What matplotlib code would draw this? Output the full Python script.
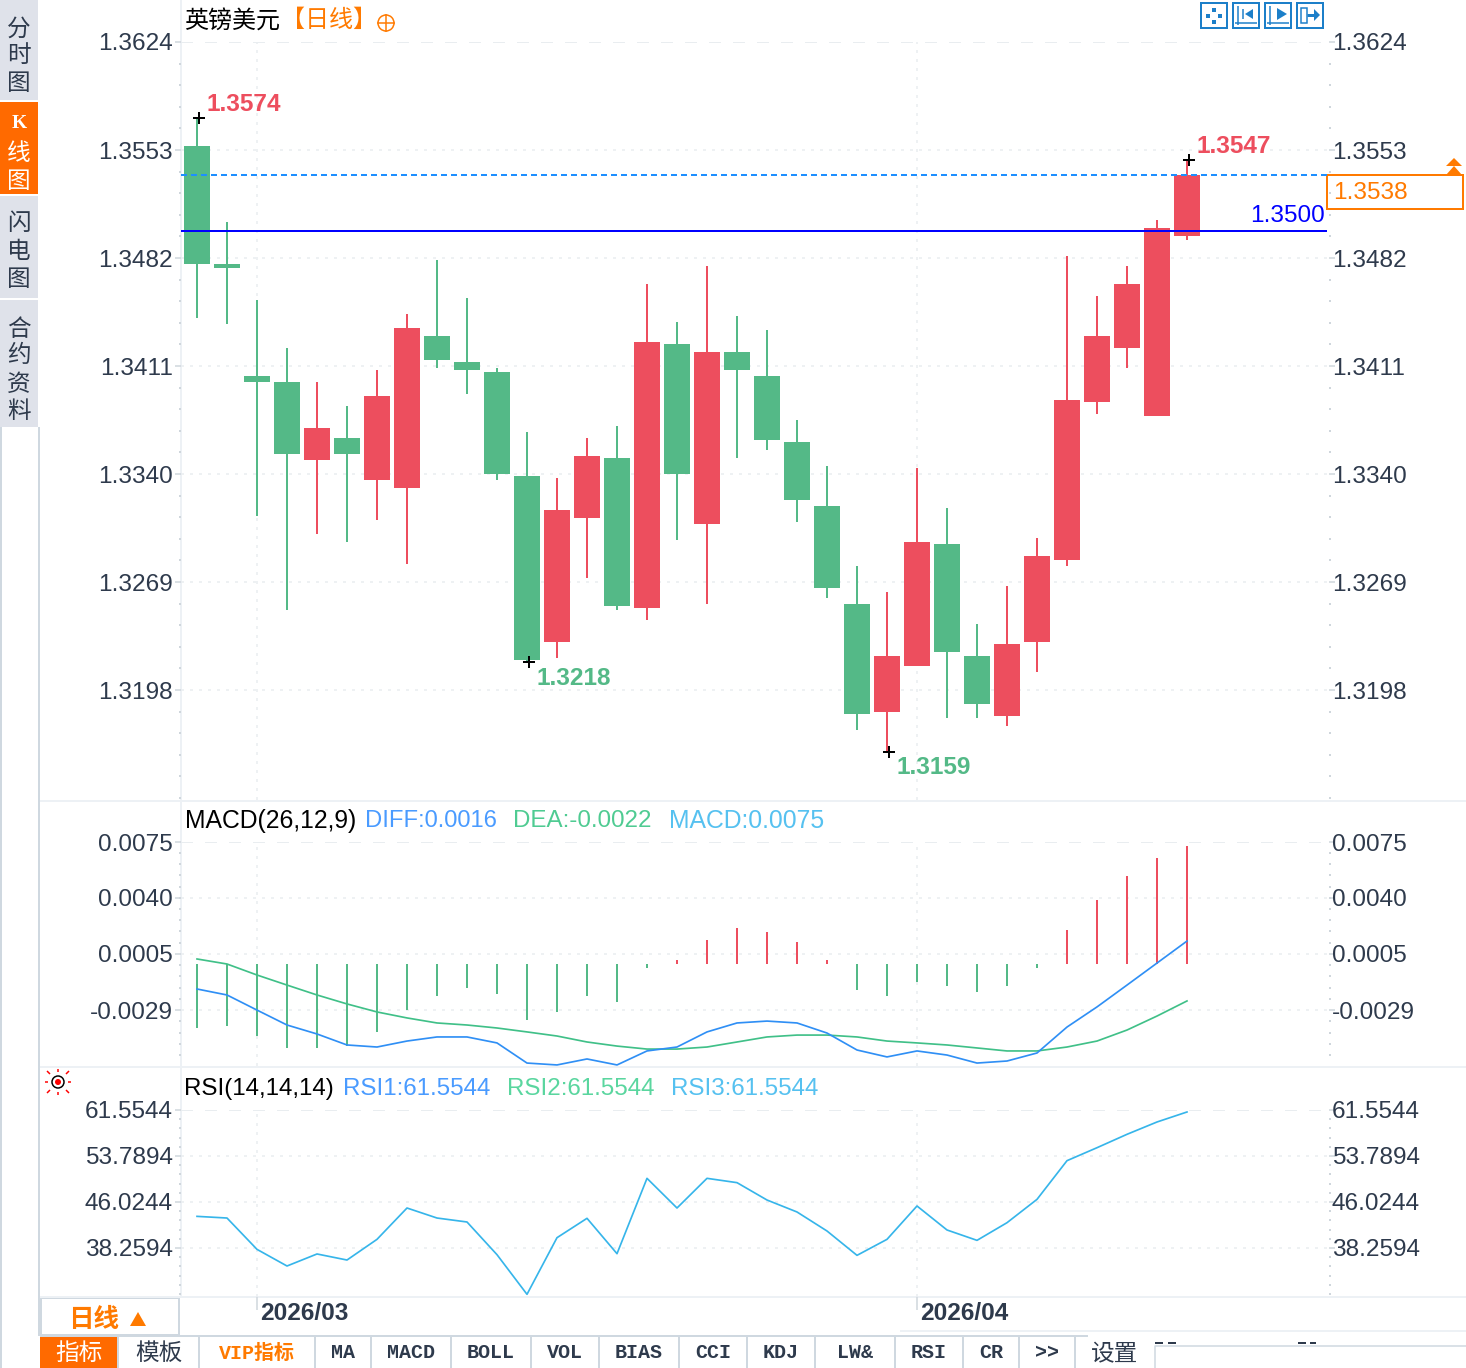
import matplotlib
matplotlib.use('Agg')
import matplotlib.pyplot as plt
from matplotlib.patches import Rectangle, Circle, Polygon
from matplotlib.ticker import AutoMinorLocator

plt.rcParams['font.family'] = ['Liberation Sans', 'Noto Sans CJK SC', 'DejaVu Sans']

W, H = 1466, 1368

# daily candles, price units
opens = [1.35556, 1.34781, 1.34044, 1.34005, 1.33492, 1.33637, 1.33361, 1.33308, 1.34307, 1.34136,
         1.34071, 1.33387, 1.32296, 1.33111, 1.33505, 1.32519, 1.34255, 1.33071, 1.34202, 1.34044,
         1.33610, 1.33190, 1.32545, 1.31835, 1.32138, 1.32940, 1.32204, 1.31809, 1.32296, 1.32835,
         1.33873, 1.34228, 1.33781, 1.34965]
closes = [1.34781, 1.34754, 1.34005, 1.33532, 1.33702, 1.33532, 1.33913, 1.34360, 1.34150, 1.34084,
          1.33400, 1.32177, 1.33163, 1.33518, 1.32532, 1.34268, 1.33400, 1.34202, 1.34084, 1.33624,
          1.33229, 1.32651, 1.31822, 1.32204, 1.32953, 1.32230, 1.31888, 1.32283, 1.32861, 1.33887,
          1.34307, 1.34649, 1.35017, 1.35366]
highs = [1.35740, 1.35057, 1.34544, 1.34228, 1.34005, 1.33847, 1.34084, 1.34452, 1.34807, 1.34557,
         1.34097, 1.33676, 1.33374, 1.33637, 1.33716, 1.34649, 1.34399, 1.34767, 1.34439, 1.34347,
         1.33755, 1.33453, 1.32795, 1.32624, 1.33440, 1.33177, 1.32414, 1.32664, 1.32979, 1.34833,
         1.34570, 1.34767, 1.35070, 1.35464]
lows = [1.34426, 1.34386, 1.33124, 1.32506, 1.33006, 1.32953, 1.33098, 1.32808, 1.34097, 1.33926,
        1.33361, 1.32164, 1.32190, 1.32716, 1.32506, 1.32440, 1.32966, 1.32545, 1.33505, 1.33558,
        1.33085, 1.32585, 1.31717, 1.31573, 1.32138, 1.31796, 1.31796, 1.31743, 1.32098, 1.32795,
        1.33795, 1.34097, 1.33781, 1.34938]

price_ticks = [1.3624, 1.3553, 1.3482, 1.3411, 1.3340, 1.3269, 1.3198]
price_labels = ['1.3624', '1.3553', '1.3482', '1.3411', '1.3340', '1.3269', '1.3198']
last_price = 1.35366
last_label = '1.3538'
level_price = 1.3500
level_label = '1.3500'
extremes = [(0, 1.35740, '1.3574'), (33, 1.35464, '1.3547'), (11, 1.32164, '1.3218'), (23, 1.31573, '1.3159')]

macd_hist = [-0.00407, -0.00394, -0.00458, -0.00534, -0.00534, -0.00522, -0.00432, -0.00293, -0.00204, -0.00153,
             -0.00191, -0.00356, -0.00305, -0.00204, -0.00242, -0.00025, 0.00025, 0.00153, 0.00229, 0.00204,
             0.00140, 0.00025, -0.00165, -0.00204, -0.00114, -0.00140, -0.00178, -0.00140, -0.00025, 0.00216,
             0.00407, 0.00560, 0.00674, 0.00750]
diff = [-0.00159, -0.00197, -0.00293, -0.00388, -0.00445, -0.00515, -0.00528, -0.00490, -0.00464, -0.00464,
        -0.00502, -0.00630, -0.00642, -0.00604, -0.00642, -0.00553, -0.00528, -0.00432, -0.00375, -0.00363,
        -0.00375, -0.00439, -0.00547, -0.00591, -0.00553, -0.00579, -0.00630, -0.00617, -0.00566, -0.00401,
        -0.00273, -0.00134, 0.00006, 0.00146]
dea = [0.00032, 0.00000, -0.00070, -0.00134, -0.00197, -0.00254, -0.00305, -0.00343, -0.00375, -0.00388,
       -0.00407, -0.00432, -0.00458, -0.00496, -0.00522, -0.00541, -0.00541, -0.00528, -0.00496, -0.00464,
       -0.00452, -0.00452, -0.00464, -0.00490, -0.00502, -0.00515, -0.00534, -0.00553, -0.00553, -0.00528,
       -0.00490, -0.00420, -0.00331, -0.00235]
macd_ticks = [0.00776, 0.00420, 0.00064, -0.00293]
macd_labels = ['0.0075', '0.0040', '0.0005', '-0.0029']

rsi = [43.60, 43.32, 38.03, 35.22, 37.25, 36.23, 39.72, 45.01, 43.32, 42.65,
       37.13, 30.44, 40.00, 43.27, 37.30, 50.02, 45.01, 50.02, 49.29, 46.36,
       44.34, 41.13, 37.02, 39.72, 45.35, 41.30, 39.55, 42.53, 46.47, 53.00,
       55.19, 57.45, 59.53, 61.22]
rsi_ticks = [61.5544, 53.7894, 46.0244, 38.2594]
rsi_labels = ['61.5544', '53.7894', '46.0244', '38.2594']

month_pos = [2, 24]
month_labels = ['2026/03', '2026/04']

side_tabs = [(['分', '时', '图'], [27, 54, 82]), (['K', '线', '图'], [124, 152, 180]),
             (['闪', '电', '图'], [222, 250, 277]), (['合', '约', '资', '料'], [327, 354, 382, 409])]
bottom_tabs = ['指标', '模板', 'VIP指标', 'MA', 'MACD', 'BOLL', 'VOL', 'BIAS', 'CCI', 'KDJ', 'LW&', 'RSI', 'CR', '>>']
bottom_edges = [40, 118, 199, 315, 371, 451, 531, 599, 679, 747, 815, 895, 963, 1019, 1075]

GREEN = '#54b987'
RED = '#ed4e5e'
ORANGE = '#ff7a00'
TEXT = '#2e3a4c'
GRID = '#e9edf0'
EDGE = '#cfd8e0'
LIGHT = '#edf1f5'
FS = 17.6
PX = 72 / 100  # points per pixel

fig = plt.figure(figsize=(W / 100, H / 100), dpi=100, facecolor='white')

# page furniture, in pixels
ui = fig.add_axes([0, 0, 1, 1], zorder=0)
ui.set_xlim(0, W)
ui.set_ylim(H, 0)
ui.axis('off')


def box(x0, y0, x1, y1, **kw):
    ui.add_patch(Rectangle((x0, y0), x1 - x0, y1 - y0, **kw))


def seg(xs, ys, color, lw=1.0, **kw):
    ui.plot(xs, ys, color=color, lw=lw * PX, solid_capstyle='butt', **kw)


# left side tabs
box(0, 0, 38, 100, fc='#dfe2ea', ec='none')
box(0, 102, 38, 194, fc='#ff6a00', ec='none')
box(0, 196, 38, 298, fc='#dfe2ea', ec='none')
box(0, 300, 38, 427, fc='#dfe2ea', ec='none')
seg([39, 39], [427, 1336], EDGE, 2)
seg([1, 1], [427, 1368], EDGE, 2)
for chars, ys in side_tabs:
    for ch, y in zip(chars, ys):
        is_k = ch == 'K'
        ui.text(19, y + (0 if is_k else 2), ch, ha='center', va='center', fontsize=14 if is_k else 17,
                color='white' if ys[0] == 124 else TEXT, fontweight='bold' if is_k else 'normal',
                family=['Liberation Serif'] if is_k else ['Noto Sans CJK SC'])

# panel frame lines
seg([181, 181], [0, 1297], LIGHT, 2)
seg([40, W], [801, 801], LIGHT, 2)
seg([40, W], [1067, 1067], LIGHT, 2)
seg([40, W], [1297, 1297], LIGHT, 2)

# titles
ui.text(184, 21, '英镑美元', fontsize=17.3, color='black', va='center')
ui.text(281, 21, '【日线】', fontsize=17.3, color=ORANGE, va='center')
ui.add_patch(Circle((386, 23), 8, fc='none', ec=ORANGE, lw=1.5 * PX))
seg([377, 395], [23, 23], ORANGE, 1.5)
seg([386, 386], [14, 32], ORANGE, 1.5)

ui.text(185, 821, 'MACD(26,12,9)', fontsize=17.8, color='black', va='center')
ui.text(365, 821, 'DIFF:0.0016', fontsize=17.1, color='#4a9bff', va='center')
ui.text(513, 821, 'DEA:-0.0022', fontsize=17.4, color='#4fcb92', va='center')
ui.text(669, 821, 'MACD:0.0075', fontsize=17.8, color='#56c1f0', va='center')
ui.text(184, 1089, 'RSI(14,14,14)', fontsize=17.4, color='black', va='center')
ui.text(343, 1089, 'RSI1:61.5544', fontsize=17.4, color='#4a9bff', va='center')
ui.text(507, 1089, 'RSI2:61.5544', fontsize=17.4, color='#5ad69f', va='center')
ui.text(671, 1089, 'RSI3:61.5544', fontsize=17.4, color='#56c1f0', va='center')

# zoom buttons, top right
for x0 in [1201, 1233, 1265, 1297]:
    box(x0, 3, x0 + 26, 28, fc='none', ec='#1c7fc9', lw=2 * PX)
for dx, dy in [(0, -6), (0, 6), (-6, 0), (6, 0)]:
    box(1214 + dx - 2, 15.5 + dy - 2, 1214 + dx + 2, 15.5 + dy + 2, fc='#1c7fc9', ec='none')
for x0 in [1233, 1265]:
    seg([x0 + 5, x0 + 5], [6, 25], '#1c7fc9', 1.5)
    seg([x0 + 2, x0 + 24], [23, 23], '#1c7fc9', 1.5)
ui.add_patch(Polygon([(1253, 9), (1253, 19), (1245, 14)], fc='#1c7fc9', ec='none'))
seg([1243, 1243], [9, 19], '#1c7fc9', 1.5)
ui.add_patch(Polygon([(1277, 8), (1277, 20), (1287, 14)], fc='#1c7fc9', ec='none'))
box(1301, 8, 1307, 23, fc='none', ec='#1c7fc9', lw=1.5 * PX)
ui.add_patch(Polygon([(1314, 9), (1314, 21), (1320, 15)], fc='#1c7fc9', ec='none'))
seg([1307, 1315], [15, 15], '#1c7fc9', 3)

# last price box and arrow
box(1327, 175, 1463, 209, fc='white', ec=ORANGE, lw=2 * PX)
ui.add_patch(Polygon([(1446, 166), (1462, 166), (1454, 158)], fc=ORANGE, ec='none'))
ui.add_patch(Polygon([(1446, 175), (1462, 175), (1454, 166)], fc=ORANGE, ec='none'))
ui.text(1333, 193, last_label, fontsize=FS, color=ORANGE, va='center')

# alert lamp
ui.add_patch(Circle((58, 1082), 6, fc='white', ec='black', lw=1.5 * PX))
ui.add_patch(Circle((58, 1082), 3, fc='#ff0000', ec='none'))
for x0, y0, x1, y1 in [(58, 1069, 58, 1072), (58, 1092, 58, 1095), (45, 1082, 48, 1082), (68, 1082, 71, 1082),
                       (47, 1071, 50, 1074), (66, 1090, 69, 1093), (47, 1093, 50, 1090), (66, 1074, 69, 1071)]:
    seg([x0, x1], [y0, y1], '#ff0000', 1.5)

# bottom bar
box(41, 1298, 179, 1335, fc='white', ec=EDGE, lw=2 * PX)
ui.text(68, 1320, '日线', fontsize=18.4, color=ORANGE, va='center', fontweight='bold')
ui.add_patch(Polygon([(130, 1326), (146, 1326), (138, 1312)], fc=ORANGE, ec='none'))
seg([40, 1088], [1336, 1336], EDGE, 2)
seg([900, W], [1331, 1331], LIGHT, 2)
box(40, 1337, 118, 1368, fc='#ff6a00', ec='none')
for x in bottom_edges[1:]:
    seg([x, x], [1337, 1368], EDGE, 2)
for name, x0, x1 in zip(bottom_tabs, bottom_edges[:-1], bottom_edges[1:]):
    col = 'white' if name == '指标' else (ORANGE if name == 'VIP指标' else TEXT)
    is_cjk = name in ('指标', '模板')
    ui.text((x0 + x1) / 2, 1353, name, ha='center', va='center', color=col,
            fontsize=17 if is_cjk else 14.4, fontweight='normal' if is_cjk else 'bold',
            family=['Liberation Mono', 'Noto Sans CJK SC'])
ui.text(1115, 1355, '设置', ha='center', va='center', fontsize=17, color=TEXT)
seg([1155, 1155, W], [1368, 1346, 1346], EDGE, 1.5)
for x0, x1 in [(1155, 1163), (1168, 1176), (1298, 1306), (1310, 1316)]:
    seg([x0, x1], [1343, 1343], TEXT, 2)


def panel(top, bottom, ylim, ticks, labels):
    ax = fig.add_axes([181 / W, 1 - bottom / H, (1329 - 181) / W, (bottom - top) / H], zorder=2)
    ax.patch.set_alpha(0)
    ax.set_xlim(-16 / 30, 1132 / 30)
    ax.set_ylim(*ylim)
    for s in ax.spines.values():
        s.set_visible(False)
    ax.set_xticks([])
    ax.set_yticks(ticks)
    ax.set_yticklabels(labels, fontsize=FS, color=TEXT)
    ax.yaxis.set_minor_locator(AutoMinorLocator(5))
    ax.tick_params(axis='y', which='major', length=6 * PX, width=1.5 * PX, color='#cfd6dc', pad=2 * PX)
    ax.tick_params(axis='y', which='minor', length=2 * PX, width=2 * PX, color='#cfd6dc')
    right = ax.twinx()
    right.patch.set_alpha(0)
    right.set_ylim(*ylim)
    for s in right.spines.values():
        s.set_visible(False)
    right.set_yticks(ticks)
    right.set_yticklabels(labels, fontsize=FS, color=TEXT)
    right.yaxis.set_minor_locator(AutoMinorLocator(5))
    right.tick_params(axis='y', which='major', length=6 * PX, width=1.5 * PX, color='#cfd6dc', pad=-3 * PX)
    right.tick_params(axis='y', which='minor', length=2 * PX, width=2 * PX, color='#cfd6dc')
    for lab in ax.get_yticklabels() + right.get_yticklabels():
        lab.set_y(lab.get_position()[1])
        lab.set_verticalalignment('center_baseline')
    for j, t in enumerate(ticks):
        ls = (0, (6, 6)) if j == 0 else (0, (2, 4))
        ax.axhline(t, color=GRID, lw=2 * PX if j == 0 else 1.5 * PX, ls=ls, zorder=0)
    for m in month_pos:
        ax.axvline(m, color=GRID, lw=1.5 * PX, ls=(0, (2, 4)), zorder=0)
    return ax


# candles
ax = panel(42, 800, (1.3624 - 758 * 0.00006574, 1.3624), price_ticks, price_labels)
xs = list(range(len(opens)))
colors = [RED if c >= o else GREEN for o, c in zip(opens, closes)]
ax.vlines(xs, lows, highs, colors=colors, lw=2 * PX, zorder=2)
ax.bar(xs, [abs(c - o) for o, c in zip(opens, closes)], bottom=[min(o, c) for o, c in zip(opens, closes)],
       width=26 / 30, color=colors, linewidth=0, zorder=3)
ax.axhline(level_price, color='#0000ff', lw=2 * PX, zorder=4, xmax=(1326 - 181) / (1329 - 181))
ax.axhline(last_price, color='#1e8fff', lw=2 * PX, ls=(0, (3, 2)), zorder=4)
ax.annotate(level_label, xy=(1, level_price), xycoords=('axes fraction', 'data'), xytext=(-4, 15),
            textcoords='offset pixels', ha='right', va='center', fontsize=FS, color='#0000ff')
for i, price, label in extremes:
    col = RED if price > 1.34 else GREEN
    up = price > 1.34
    ax.plot(i + 2 / 30, price, marker='+', color='black', ms=12 * PX, mew=2 * PX, zorder=5, clip_on=False)
    ax.annotate(label, xy=(i, price), xytext=(10, 14 if up else -16), textcoords='offset pixels',
                va='center', fontsize=FS, color=col, fontweight='bold', annotation_clip=False)

# MACD
scale = 6.36e-5
ax2 = panel(842, 1066, ((964 - 1066) * scale, (964 - 842) * scale), macd_ticks, macd_labels)
ax2.vlines(xs, 0, macd_hist, colors=[RED if v > 0 else GREEN for v in macd_hist], lw=2 * PX, zorder=2)
ax2.plot(xs, dea, color='#40c088', lw=1.7 * PX, zorder=3)
ax2.plot(xs, diff, color='#2f8ff5', lw=1.7 * PX, zorder=4)

# RSI
rsi_scale = 7.765 / 46
ax3 = panel(1110, 1297, (61.5544 - 187 * rsi_scale, 61.5544), rsi_ticks, rsi_labels)
ax3.plot(xs, rsi, color='#36b5ea', lw=1.7 * PX, zorder=3, clip_on=False)
ax3.set_xticks(month_pos)
ax3.set_xticklabels([''] * len(month_pos))
ax3.tick_params(axis='x', length=13 * PX, width=1.5 * PX, color='#cfd6dc')
for m, label in zip(month_pos, month_labels):
    ax3.annotate(label, xy=(m, 0), xycoords=('data', 'axes fraction'), xytext=(3, -17),
                 textcoords='offset pixels', va='center', fontsize=FS, color=TEXT, fontweight='bold',
                 annotation_clip=False)

fig.savefig('out.png', dpi=100)
